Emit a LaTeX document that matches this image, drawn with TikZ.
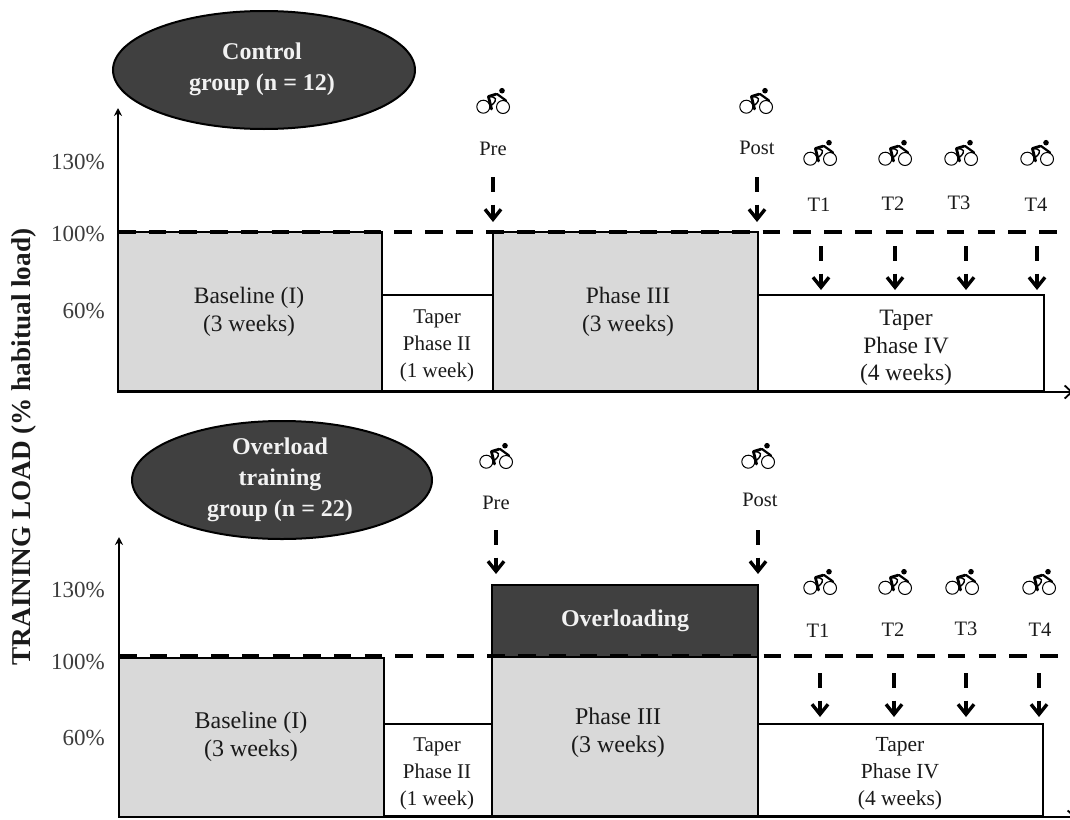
\documentclass[tikz,border=0pt]{standalone}
\usepackage{fontspec}
\setmainfont{Liberation Serif}
\usetikzlibrary{arrows.meta,shapes.geometric}
\newcommand{\fs}[2]{\fontsize{#1}{#2}\selectfont}
\definecolor{ink}{HTML}{1A1A1A}
\definecolor{darkfill}{HTML}{404040}
\definecolor{greyfill}{HTML}{D9D9D9}
\definecolor{pale}{HTML}{F2F2F2}
\tikzset{
  x=1pt,y=-1pt,
  boxbase/.style={draw=black,line width=2.6pt,anchor=north west,inner sep=0pt,outer sep=0pt},
  greybox/.style={boxbase,fill=greyfill},
  whitebox/.style={boxbase,fill=white},
  darkbox/.style={boxbase,fill=darkfill},
  oval/.style={draw=black,line width=2pt,fill=darkfill},
  axisline/.style={draw=black,line width=2.6pt,-{Stealth[length=8pt,width=8pt]}},
  xaxisline/.style={draw=black,line width=2pt,-{Straight Barb[length=7pt,width=13pt,line width=1.8pt]}},
  refline/.style={draw=black,line width=3.4pt,dash pattern=on 17.5pt off 13.2pt},
  cue/.style={draw=black,line width=3.4pt,dash pattern=on 14.5pt off 13pt on 60pt,-{Straight Barb[length=10pt,width=16pt,line width=3.4pt]}},
  lab/.style={align=center,inner sep=0pt,text=ink},
  biglab/.style={lab,font=\fs{23.5}{27.5}},
  smalllab/.style={lab,font=\fs{21}{27}},
  ticklab/.style={lab,font=\fs{23}{27},anchor=east,text=ink!85},
  marklab/.style={lab,font=\fs{20.5}{24}},
  boldwhite/.style={align=center,inner sep=0pt,text=pale,font=\bfseries\fs{24}{31}},
  bike/.pic={
    \draw[line width=1pt] (-9.7,6.7) circle (6.5);
    \draw[line width=1pt] (10,7) circle (6.5);
    \fill (9,-9.3) circle (2.8);
    \draw[line width=2.8pt,line cap=round,line join=round] (3,-5.8) -- (-4.6,-3.5) -- (-1.5,9);
    \draw[line width=1.4pt,line cap=round] (-4,-3.5) .. controls (3,-3) and (5,-1) .. (-1,5);
    \draw[line width=2.2pt,line cap=round] (4,-6) -- (13,0.5);
  }
}
\begin{document}
\begin{tikzpicture}
\useasboundingbox (0,0) rectangle (1070,819);

% ---- top panel ----
\node[oval,ellipse,minimum width=302pt,minimum height=118pt,inner sep=0pt] (ctrl) at (264,70) {};
\node[boldwhite] (ctrltxt) at (262,69.5) {Control\\group (n = 12)};

\coordinate (ya0) at (118,393);
\coordinate (ya1) at (118,108);
\coordinate (xa0) at (118,392);
\coordinate (xa1) at (1073,392);
\draw[xaxisline] (xa0) -- (xa1);

\node[greybox,minimum width=264pt,minimum height=159pt] (b1) at (118,232) {};
\node[whitebox,minimum width=111pt,minimum height=96pt] (t1) at (382,295) {};
\node[greybox,minimum width=265pt,minimum height=159pt] (p1) at (493,232) {};
\node[whitebox,minimum width=286pt,minimum height=96pt] (f1) at (758,295) {};
\draw[axisline] (ya0) -- (ya1);
\coordinate (r1a) at (118,232);
\coordinate (r1b) at (1058,232);
\draw[refline] (r1a) -- (r1b);

\node[biglab] (b1t) at (249,312) {Baseline (I)\\(3 weeks)};
\node[smalllab] (t1t) at (437,346) {Taper\\Phase II\\(1 week)};
\node[biglab] (p1t) at (628,312) {Phase III\\(3 weeks)};
\node[biglab] (f1t) at (906,348) {Taper\\Phase IV\\(4 weeks)};

\node[ticklab] (a130) at (105,162) {130\%};
\node[ticklab] (a100) at (105,234) {100\%};
\node[ticklab] (a60) at (105,311) {60\%};

\foreach \n/\x/\y in {pre/493/100,post/756/100,ta/820/152,tb/895/152,tc/961/152,td/1037/152}
  \pic at (\x,\y) {bike};
\node[marklab] (apre) at (493,149) {Pre};
\node[marklab] (apost) at (757,148) {Post};
\node[marklab] (at1) at (819,205) {T1};
\node[marklab] (at2) at (893,204) {T2};
\node[marklab] (at3) at (959,203) {T3};
\node[marklab] (at4) at (1036,205) {T4};

\foreach \n/\x/\ya/\yb in {pre/493/177/222,post/757/177/222,ta/821/246/290,tb/895/246/290,tc/966/246/290,td/1037/246/290}{
  \coordinate (c\n a) at (\x,\ya);
  \coordinate (c\n b) at (\x,\yb);
  \draw[cue] (c\n a) -- (c\n b);
}

% ---- bottom panel ----
\node[oval,ellipse,minimum width=300pt,minimum height=118pt,inner sep=0pt] (over) at (282,480) {};
\node[boldwhite] (overtxt) at (280,480) {Overload\\training\\group (n = 22)};

\coordinate (yb0) at (119,817);
\coordinate (yb1) at (119,537);
\coordinate (xb0) at (119,817);
\coordinate (xb1) at (1076,817);
\draw[xaxisline] (xb0) -- (xb1);

\node[greybox,minimum width=265pt,minimum height=159pt] (b2) at (119,658) {};
\node[whitebox,minimum width=108pt,minimum height=92pt] (t2) at (384,724) {};
\node[greybox,minimum width=266pt,minimum height=159pt] (p2) at (492,657) {};
\node[darkbox,minimum width=266pt,minimum height=72pt] (o2) at (492,585) {};
\node[whitebox,minimum width=285pt,minimum height=92pt] (f2) at (758,724) {};
\draw[axisline] (yb0) -- (yb1);
\coordinate (r2a) at (119,656);
\coordinate (r2b) at (1058,656);
\draw[refline] (r2a) -- (r2b);

\node[biglab,font=\fs{24}{28}] (b2t) at (251,737) {Baseline (I)\\(3 weeks)};
\node[smalllab] (t2t) at (437,774) {Taper\\Phase II\\(1 week)};
\node[biglab,font=\fs{24}{28}] (p2t) at (618,733) {Phase III\\(3 weeks)};
\node[boldwhite] (o2t) at (625,621) {Overloading};
\node[smalllab,font=\fs{21.5}{27}] (f2t) at (900,773.5) {Taper\\Phase IV\\(4 weeks)};

\node[ticklab] (b130) at (105,590) {130\%};
\node[ticklab] (b100) at (105,662) {100\%};
\node[ticklab] (b60) at (105,738) {60\%};

\foreach \n/\x/\y in {pre/496/455,post/758/455,ta/820/581,tb/895/581,tc/962/581,td/1039/581}
  \pic at (\x,\y) {bike};
\node[marklab] (bpre) at (496,503) {Pre};
\node[marklab] (bpost) at (760,500) {Post};
\node[marklab] (bt1) at (818,631) {T1};
\node[marklab] (bt2) at (893,630) {T2};
\node[marklab] (bt3) at (966,629) {T3};
\node[marklab] (bt4) at (1040,630) {T4};

\foreach \n/\x/\ya/\yb in {pre/496/530/574,post/758/530/574,ta/820/673/717,tb/894/673/717,tc/966/673/717,td/1039/673/717}{
  \coordinate (d\n a) at (\x,\ya);
  \coordinate (d\n b) at (\x,\yb);
  \draw[cue] (d\n a) -- (d\n b);
}

% ---- shared axis title ----
\node[inner sep=0pt,text=ink,rotate=90,font=\bfseries\fs{27.2}{32}] (ytitle) at (24,447) {TRAINING LOAD (\% habitual load)};
\end{tikzpicture}
\end{document}
